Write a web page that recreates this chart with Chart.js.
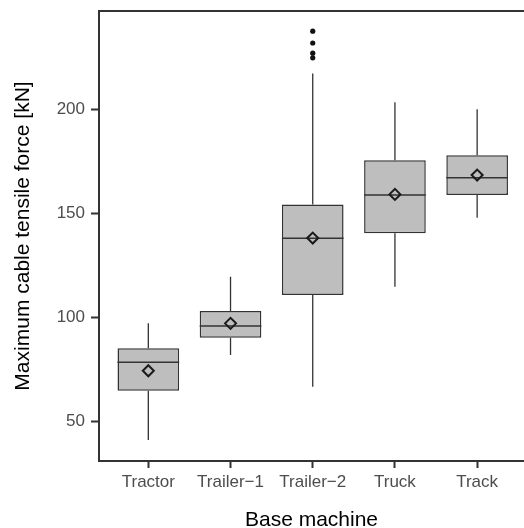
<!DOCTYPE html>
<html>
<head>
<meta charset="utf-8">
<script src="https://cdn.jsdelivr.net/npm/chart.js@4.4.1/dist/chart.umd.min.js"></script>
<style>
  html, body { margin: 0; padding: 0; background: #ffffff; }
  canvas { display: block; }
</style>
</head>
<body>
<canvas id="chart" width="524" height="528"></canvas>
<script>
// Five-number summaries of maximum cable tensile force per base machine (kN)
const machines    = ['Tractor', 'Trailer\u22121', 'Trailer\u22122', 'Truck', 'Track'];
const whiskerLow  = [41.0,  81.9,  66.6, 114.7, 147.9];
const lowerQuart  = [64.7,  90.2, 110.7, 140.4, 158.8];
const medians     = [78.4,  95.8, 138.0, 158.8, 167.1];
const upperQuart  = [85.1, 103.0, 154.3, 175.5, 177.9];
const whiskerHigh = [97.1, 119.5, 217.3, 203.4, 200.1];
const means       = [74.3,  97.1, 138.1, 159.1, 168.4];
const outliers    = [[], [], [237.6, 231.9, 227.0, 224.8], [], []];
const yTickValues = [50, 100, 150, 200];

const BOX_WIDTH = 0.75;          // in category units
const INK = '#333333';
const FONT = "'Liberation Sans', Arial, Helvetica, sans-serif";

// whisker segments: low -> Q1 and Q3 -> high, separated by gaps
const whiskerPts = [];
machines.forEach((m, i) => {
  const x = i + 1;
  whiskerPts.push({x, y: whiskerLow[i]}, {x, y: lowerQuart[i]}, {x, y: null});
  whiskerPts.push({x, y: upperQuart[i]}, {x, y: whiskerHigh[i]}, {x, y: null});
});

// median segments spanning the box width
const medianPts = [];
machines.forEach((m, i) => {
  const x = i + 1;
  medianPts.push({x: x - BOX_WIDTH / 2, y: medians[i]},
                 {x: x + BOX_WIDTH / 2, y: medians[i]},
                 {x: x + 0.5, y: null});
});

const boxPts = machines.map((m, i) => ({x: i + 1, y: [lowerQuart[i], upperQuart[i]]}));
const meanPts = machines.map((m, i) => ({x: i + 1, y: means[i]}));
const outlierPts = [];
outliers.forEach((vals, i) => vals.forEach(v => outlierPts.push({x: i + 1, y: v})));

// top frame line of the panel
const frameTop = {
  id: 'frameTop',
  afterDraw(chart) {
    const {ctx, chartArea} = chart;
    ctx.save();
    ctx.strokeStyle = INK;
    ctx.lineWidth = 2;
    ctx.beginPath();
    ctx.moveTo(chartArea.left - 1, chartArea.top);
    ctx.lineTo(chartArea.right, chartArea.top);
    ctx.stroke();
    ctx.restore();
  }
};

new Chart(document.getElementById('chart'), {
  data: {
    datasets: [
      {
        type: 'scatter', data: outlierPts, order: 1,
        pointStyle: 'circle', pointRadius: 2.6,
        backgroundColor: '#111111', borderColor: '#111111', borderWidth: 0
      },
      {
        type: 'scatter', data: meanPts, order: 2,
        pointStyle: 'rectRot', pointRadius: 5.5,
        backgroundColor: 'rgba(0,0,0,0)', borderColor: '#1a1a1a', borderWidth: 2
      },
      {
        type: 'line', data: medianPts, order: 3,
        borderColor: INK, borderWidth: 1.6, pointRadius: 0, spanGaps: false
      },
      {
        type: 'bar', data: boxPts, order: 4,
        backgroundColor: '#BEBEBE', borderColor: INK, borderWidth: 1.5,
        borderSkipped: false, categoryPercentage: 1, barPercentage: BOX_WIDTH,
        grouped: false
      },
      {
        type: 'line', data: whiskerPts, order: 5,
        borderColor: INK, borderWidth: 1.3, pointRadius: 0, spanGaps: false
      }
    ]
  },
  options: {
    responsive: false,
    animation: false,
    devicePixelRatio: 1,
    layout: { autoPadding: false, padding: { top: 11, right: 0, left: 0, bottom: 0 } },
    plugins: { legend: { display: false }, tooltip: { enabled: false } },
    scales: {
      x: {
        type: 'linear',
        offset: false,
        min: 0.4, max: 5.57,
        afterBuildTicks: s => { s.ticks = machines.map((m, i) => ({value: i + 1})); },
        afterFit: s => { s.height = 67; s.paddingLeft = 0; s.paddingRight = 0; },
        grid: { offset: false, drawOnChartArea: false, drawTicks: true, tickLength: 7, tickColor: INK, tickWidth: 2 },
        border: { display: true, color: INK, width: 2 },
        ticks: {
          autoSkip: false, maxRotation: 0, padding: 4,
          color: '#4D4D4D', font: { family: FONT, size: 17 },
          callback: v => machines[v - 1]
        },
        title: {
          display: true, text: 'Base machine', color: '#000000',
          font: { family: FONT, size: 21, lineHeight: 1 },
          padding: { top: 0, bottom: -3 }
        }
      },
      y: {
        type: 'linear',
        min: 30.9, max: 247.3,
        afterBuildTicks: s => { s.ticks = yTickValues.map(v => ({value: v})); },
        afterFit: s => { s.width = 99; s.paddingTop = 0; s.paddingBottom = 0; },
        grid: { drawOnChartArea: false, drawTicks: true, tickLength: 8, tickColor: INK, tickWidth: 2 },
        border: { display: true, color: INK, width: 2 },
        ticks: { padding: 6, color: '#4D4D4D', font: { family: FONT, size: 17 } },
        title: {
          display: true, text: 'Maximum cable tensile force [kN]', color: '#000000',
          font: { family: FONT, size: 21, lineHeight: 1 },
          padding: { top: 13, bottom: 0 }
        }
      }
    }
  },
  plugins: [frameTop]
});
</script>
</body>
</html>
